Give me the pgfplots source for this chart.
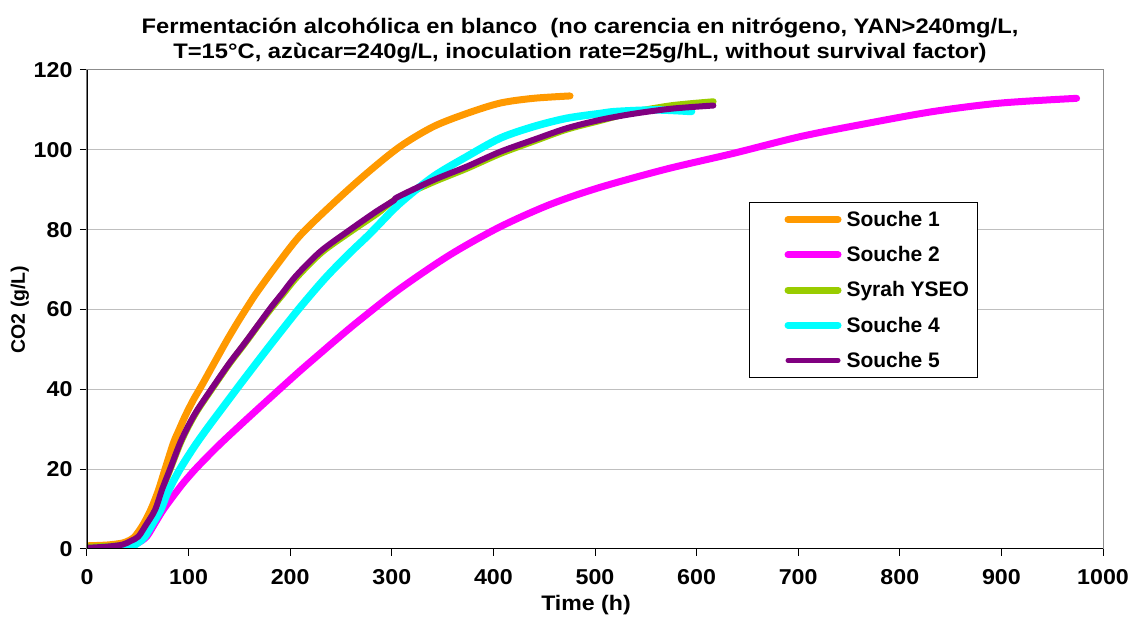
\documentclass[border=0pt]{standalone}
\usepackage{fontspec}
\setmainfont{Liberation Sans}
\usepackage{pgfplots}
\pgfplotsset{compat=1.18}
\definecolor{cOrange}{HTML}{FF9900}
\definecolor{cMagenta}{HTML}{FF00FF}
\definecolor{cGreen}{HTML}{99CC00}
\definecolor{cCyan}{HTML}{00FFFF}
\definecolor{cPurple}{HTML}{800080}
\begin{document}
\begin{tikzpicture}
\useasboundingbox (-87pt,-68pt) rectangle (1044pt,549pt);
\begin{axis}[
  at={(0pt,0pt)}, anchor=south west,
  scale only axis, width=1016pt, height=479pt,
  xmin=0, xmax=1000, ymin=0, ymax=120,
  xtick={0,100,...,1000}, ytick={0,20,...,120},
  ymajorgrids, grid style={draw=gray!50, line width=1pt},
  axis line style={draw=gray!90, line width=1pt},
  tick align=outside, tick pos=left, major tick length=7pt,
  tick style={black, line width=1pt},
  ticklabel style={font=\fontsize{21.5}{24}\selectfont\bfseries\addfontfeature{FakeStretch=1.08}},
  xticklabel style={yshift=-10pt},
  yticklabel style={xshift=-4pt},
  /pgf/number format/assume math mode=true,
  /pgf/number format/1000 sep={},
  xlabel={Time (h)}, ylabel={CO2 (g/L)},
  every axis x label/.style={at={(rel axis cs:0.5,0)}, yshift=-56pt, xshift=-9pt, anchor=center, font=\fontsize{21}{24}\selectfont\bfseries\addfontfeature{FakeStretch=1.1}},
  every axis y label/.style={at={(rel axis cs:0,0.5)}, xshift=-67pt, rotate=90, anchor=center, font=\fontsize{19.5}{22}\selectfont\bfseries},
  legend style={at={(0.6516,0.725)}, anchor=north west, draw=black, line width=1pt, fill=white,
    font=\fontsize{21}{24}\selectfont\bfseries, inner xsep=6pt, inner ysep=7pt, row sep=14.5pt},
  legend cell align=left,
  legend image code/.code={\draw[#1, line cap=round, shorten <=29pt, shorten >=3pt] (0pt,0pt) -- (82pt,0pt);},
  every axis plot/.append style={line cap=round, line join=round, smooth},
]
\addplot[cOrange, line width=7pt, forget plot] coordinates {
(0,0.8)(20,1.0)(35,1.5)(42,2.2)(47,3.1)(55,6)(62.7,9.8)(70,14.5)(76.8,20)(85,26.5)(90,29.5)(97,33.5)(105,37.5)(113,41)(125,46.5)(138,52.4)(150,57.5)(160,61.5)(167,64.2)(185,70.5)(209.6,78.5)(242.4,86.6)(275.3,94.1)(308,100.8)(340.8,105.8)(373.7,109.1)(406.5,111.7)(439.3,112.9)(475.4,113.5)};
\addplot[cMagenta, line width=7pt, forget plot] coordinates {
(0,0)(20,0)(40,0.3)(50,1.5)(58.7,3.1)(67,6.5)(75,9.8)(85,13.3)(95,16.6)(106.3,19.9)(118,23)(131,26.3)(152,31.3)(170,35.5)(188.6,39.8)(210,44.7)(230,49.1)(246,52.6)(268.7,57.4)(308,65.2)(357.3,73.7)(406.5,80.7)(455.7,86.3)(505,90.6)(570.6,95.2)(636,99.1)(701.8,103.3)(767.4,106.6)(833,109.6)(898.6,111.7)(974,112.9)};
\addplot[cGreen, line width=6.5pt, forget plot] coordinates {
(0,0.5)(20,0.7)(35,1.0)(43,1.8)(51,3.1)(58.5,6)(67.5,9.8)(74.5,15)(82,20)(92,26.5)(100.5,31)(109.5,35)(125.5,41)(140.5,46.5)(155.5,51.5)(168.5,56)(181.5,60.3)(192.5,63.7)(207,68.2)(231,74.3)(260,79.6)(286,84.1)(304,87.6)(340.8,91.9)(373.7,95.3)(406.5,99)(439.3,102.1)(472,105.1)(505,107.3)(537,109.4)(575,111.1)(616.5,112.1)};
\addplot[cCyan, line width=7.5pt, forget plot] coordinates {
(0,0)(20,0)(40,0.3)(50,1.5)(57,3.1)(65,6.5)(72.5,9.8)(80,14.5)(91.5,20)(106,25.8)(120,30.8)(135,35.9)(150.6,41.2)(168,47)(185,52.6)(208,60)(229,66.3)(242.4,70)(260,74.5)(275.3,78.2)(285,80.7)(308,86.6)(340.8,93.3)(373.7,98.3)(406.5,102.9)(439.3,105.8)(472,107.9)(505,109.1)(521,109.6)(560,110)(595,109.6)};
\addplot[cPurple, line width=6pt, forget plot] coordinates {
(0,0.3)(20,0.6)(35,1.1)(43,2)(50.5,3.1)(58,6)(67,9.8)(74,15)(81.7,20)(91.5,26.5)(100,31)(109,35)(125,41)(140,46.5)(155,51.5)(168,56)(181,60.5)(192,64)(206,68.5)(230,74.6)(259,80)(285,84.6)(302,87.3)(306,88.2)(340.8,92.4)(373.7,95.8)(406.5,99.5)(439.3,102.5)(472,105.4)(505,107.5)(537,109)(575,110.3)(616.5,111.1)};
\addlegendimage{cOrange, line width=7pt}
\addlegendentry{Souche 1}
\addlegendimage{cMagenta, line width=7pt}
\addlegendentry{Souche 2}
\addlegendimage{cGreen, line width=7pt}
\addlegendentry{Syrah YSEO}
\addlegendimage{cCyan, line width=7pt}
\addlegendentry{Souche 4}
\addlegendimage{cPurple, line width=5pt}
\addlegendentry{Souche 5}
\draw[black, line width=1.2pt] (rel axis cs:0,1) -- (rel axis cs:0,0) -- (rel axis cs:1,0);
\end{axis}
\node[align=center, font=\fontsize{21}{25}\selectfont\bfseries\addfontfeature{FakeStretch=1.13}] at (493pt,508pt)
  {Fermentación alcohólica en blanco\ \ (no carencia en nitrógeno, YAN>240mg/L,\\T=15°C, azùcar=240g/L, inoculation rate=25g/hL, without survival factor)};
\end{tikzpicture}
\end{document}
